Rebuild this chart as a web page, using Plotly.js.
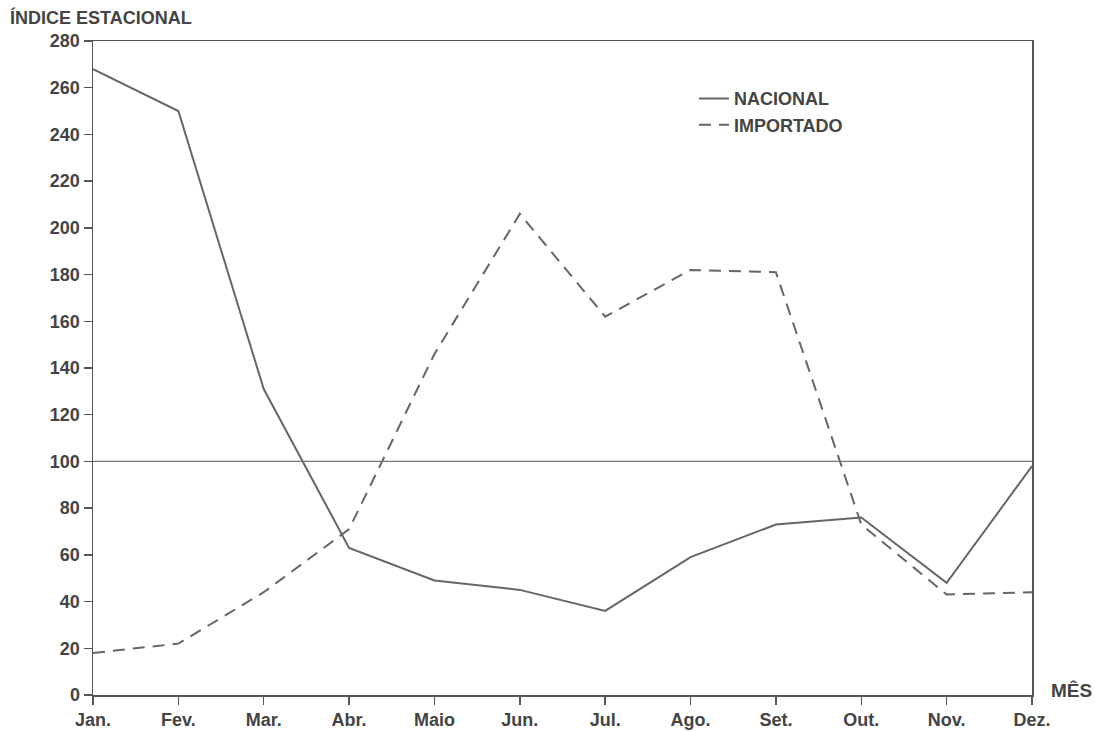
<!DOCTYPE html>
<html>
<head>
<meta charset="utf-8">
<script src="https://cdn.plot.ly/plotly-3.0.1.min.js"></script>
<style>html,body{margin:0;padding:0;background:#fff;}#chart{width:1095px;height:731px;}</style>
</head>
<body>
<div id="chart"></div>
<script>
const meses = ["Jan.", "Fev.", "Mar.", "Abr.", "Maio", "Jun.", "Jul.", "Ago.", "Set.", "Out.", "Nov.", "Dez."];
const nacional = [268, 250, 131, 63, 49, 45, 36, 59, 73, 76, 48, 98];
const importado = [18, 22, 44, 71, 146, 206, 162, 182, 181, 73, 43, 44];
const yTicks = [0, 20, 40, 60, 80, 100, 120, 140, 160, 180, 200, 220, 240, 260, 280];

const ink = "#555";
const font = {family: "Liberation Sans, Arial, sans-serif", color: "#444"};

const traces = [
  {x: meses, y: nacional, name: "<b>NACIONAL</b>", mode: "lines",
   line: {color: "#666", width: 2}},
  {x: meses, y: importado, name: "<b>IMPORTADO</b>", mode: "lines",
   line: {color: "#666", width: 2, dash: "12px,8px"}}
];

const layout = {
  width: 1095, height: 731,
  margin: {l: 93, r: 63, t: 41, b: 36},
  paper_bgcolor: "#fff", plot_bgcolor: "#fff",
  font: font,
  showlegend: true,
  legend: {x: 0.64, y: 0.94, xanchor: "left", yanchor: "top",
           font: {size: 18, color: "#444", family: font.family},
           bgcolor: "rgba(0,0,0,0)", tracegroupgap: 4},
  xaxis: {
    type: "category", range: [0, 11], showgrid: false, zeroline: false,
    showline: true, linecolor: ink, linewidth: 1.5, mirror: true,
    ticks: "outside", ticklen: 8, tickcolor: ink, tickwidth: 1.5,
    tickfont: {size: 18, color: "#444", family: font.family, weight: "bold"}
  },
  yaxis: {
    range: [0, 280], showgrid: false, zeroline: false,
    showline: true, linecolor: ink, linewidth: 1.5, mirror: true,
    tickvals: yTicks, ticks: "outside", ticklen: 8, tickcolor: ink, tickwidth: 1.5,
    tickfont: {size: 18, color: "#444", family: font.family, weight: "bold"}
  },
  shapes: [
    {type: "line", xref: "paper", x0: 0, x1: 1, yref: "y", y0: 100, y1: 100,
     line: {color: "#777", width: 1.2}}
  ],
  annotations: [
    {text: "<b>ÍNDICE ESTACIONAL</b>", xref: "paper", yref: "paper", x: -0.0905, y: 1.036,
     xanchor: "left", yanchor: "middle", showarrow: false,
     font: {size: 18, color: "#444", family: font.family}},
    {text: "<b>MÊS</b>", xref: "paper", yref: "paper", x: 1.018, y: 0.0076,
     xanchor: "left", yanchor: "middle", showarrow: false,
     font: {size: 19, color: "#444", family: font.family}}
  ]
};

Plotly.newPlot("chart", traces, layout, {displayModeBar: false, staticPlot: true});
</script>
</body>
</html>
